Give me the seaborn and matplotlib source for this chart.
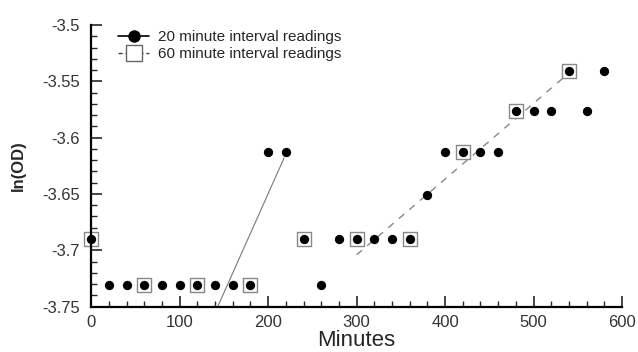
import numpy as np
import pandas as pd
import matplotlib
matplotlib.use("Agg")
import matplotlib.pyplot as plt
from matplotlib.lines import Line2D
from matplotlib.ticker import MultipleLocator
import seaborn as sns

# 20 minute interval readings
min20 = [0, 20, 40, 60, 80, 100, 120, 140, 160, 180, 200, 220, 240, 260, 280,
         300, 320, 340, 360, 380, 400, 420, 440, 460, 480, 500, 520, 540, 560, 580]
od20 = [-3.690, -3.731, -3.731, -3.731, -3.731, -3.731, -3.731, -3.731, -3.731, -3.731,
        -3.6125, -3.6125, -3.690, -3.731, -3.690, -3.690, -3.690, -3.690, -3.690, -3.651,
        -3.6125, -3.6125, -3.6125, -3.6125, -3.576, -3.576, -3.576, -3.541, -3.576, -3.541]

# 60 minute interval readings
min60 = [0, 60, 120, 180, 240, 300, 360, 420, 480, 540]
od60 = [-3.690, -3.731, -3.731, -3.731, -3.690, -3.690, -3.690, -3.6125, -3.576, -3.541]

# fitted growth lines
fit20_x = [143, 218]
fit20_y = [-3.750, -3.618]
fit60_x = [300, 535]
fit60_y = [-3.704, -3.546]

sns.set_style("white")
plt.rcParams['font.family'] = ['Liberation Sans', 'DejaVu Sans']

df20 = pd.DataFrame({"Minutes": min20, "lnOD": od20})
df60 = pd.DataFrame({"Minutes": min60, "lnOD": od60})

fig = plt.figure(figsize=(6.38, 3.52), dpi=100)
ax = fig.add_axes([0.143, 0.129, 0.832, 0.800])

sns.lineplot(x=fit20_x, y=fit20_y, ax=ax, color="#777777", lw=0.8, zorder=1)
sns.lineplot(x=fit60_x, y=fit60_y, ax=ax, color="#888888", lw=1.0,
             linestyle=(0, (5, 5)), zorder=1)
sns.scatterplot(data=df60, x="Minutes", y="lnOD", ax=ax, marker="s", s=115,
                facecolor="white", edgecolor="#888888", linewidth=1.0, zorder=2, clip_on=False)
sns.scatterplot(data=df20, x="Minutes", y="lnOD", ax=ax, marker="o", s=45,
                color="black", edgecolor="black", linewidth=0, zorder=3, clip_on=False)

ax.set_xlim(0, 600)
ax.set_ylim(-3.75, -3.5)
ax.xaxis.set_major_locator(MultipleLocator(100))
ax.xaxis.set_minor_locator(MultipleLocator(20))
ax.yaxis.set_minor_locator(MultipleLocator(0.01))
ax.set_yticks(np.arange(-3.75, -3.49, 0.05))
ax.set_yticklabels(["-3.75", "-3.7", "-3.65", "-3.6", "-3.55", "-3.5"])
ax.tick_params(axis="both", which="major", direction="in", length=8, width=1.2,
               labelsize=12, labelcolor="#333333")
ax.tick_params(axis="y", which="major", pad=8)
ax.tick_params(axis="x", which="major", pad=6)
ax.tick_params(axis="both", which="minor", direction="in", length=4, width=1.0)
ax.tick_params(bottom=True, left=True, which="both")

for s in ["top", "right"]:
    ax.spines[s].set_visible(False)
for s in ["left", "bottom"]:
    ax.spines[s].set_linewidth(1.6)
    ax.spines[s].set_color("black")

ax.set_xlabel("Minutes", fontsize=16, labelpad=0)
ax.set_ylabel("ln(OD)", fontsize=12, fontweight="bold", labelpad=12)

handles = [
    Line2D([], [], color="black", marker="o", markersize=8, lw=1.2),
    Line2D([], [], color="#444444", marker="s", markersize=11, markerfacecolor="white",
           markeredgecolor="#666666", lw=1.0, linestyle=(0, (3, 2))),
]
ax.legend(handles, ["20 minute interval readings", "60 minute interval readings"],
          loc="upper left", bbox_to_anchor=(0.025, 1.03), frameon=False,
          fontsize=11, handlelength=2.0, handletextpad=0.6, labelspacing=0.2)

fig.savefig("out.png", dpi=100)
